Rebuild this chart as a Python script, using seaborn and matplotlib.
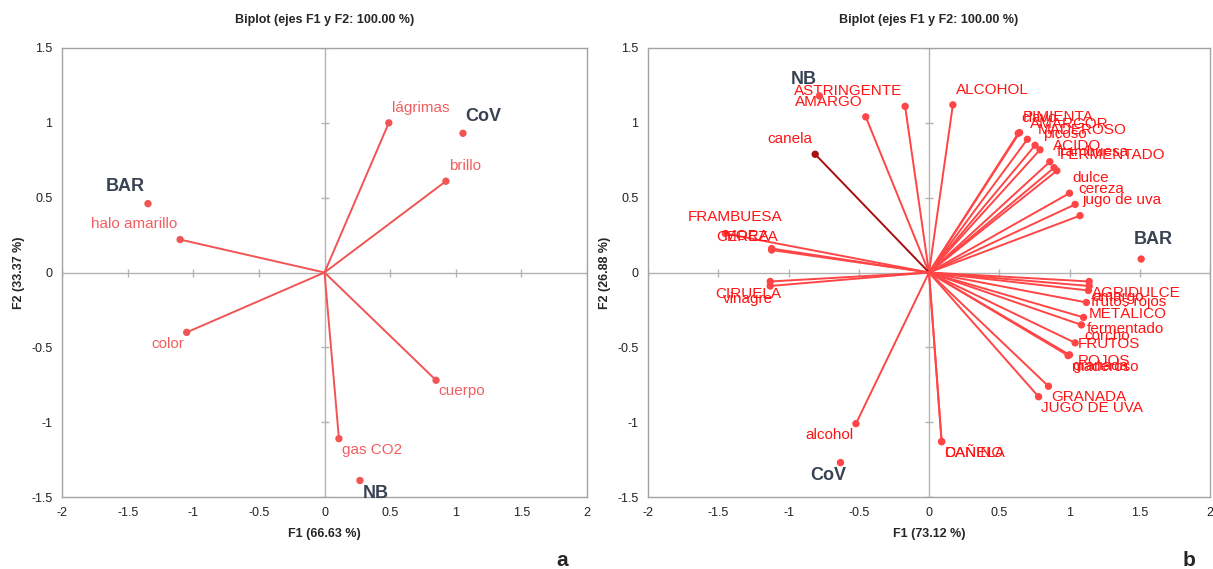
import numpy as np
import pandas as pd
import matplotlib
matplotlib.use('Agg')
import matplotlib.pyplot as plt
from matplotlib.ticker import FuncFormatter
import seaborn as sns

sns.set_theme(style='white')
plt.rcParams['font.family'] = ['Liberation Sans', 'DejaVu Sans']

# ---- panel a ----
vars_a = ['lágrimas', 'brillo', 'halo amarillo', 'color', 'cuerpo', 'gas CO2']
f1_a = [0.49, 0.925, -1.10, -1.05, 0.85, 0.11]
f2_a = [1.00, 0.61, 0.22, -0.40, -0.72, -1.11]
obs_a = ['BAR', 'CoV', 'NB']
obs_f1_a = [-1.345, 1.055, 0.27]
obs_f2_a = [0.46, 0.93, -1.39]

# ---- panel b ----
vars_b = ['ALCOHOL', 'ASTRINGENTE', 'AMARGO', 'canela',
          'PIMIENTA', 'clavo', 'AMARGOR', 'MADEROSO', 'picoso', 'ÁCIDO',
          'frambuesa', 'FERMENTADO', 'dulce', 'cereza', 'jugo de uva',
          'FRAMBUESA', 'MORA', 'CEREZA', 'CIRUELA', 'vinagre',
          'AGRIDULCE', 'amargo', 'frutos rojos', 'METÁLICO', 'fermentado',
          'corcho', 'FRUTOS\nROJOS', 'granada', 'maderoso', 'GRANADA',
          'JUGO DE UVA', 'alcohol', 'CANELA', 'DAÑINO']
f1_b = [0.17, -0.17, -0.45, -0.81,
        0.645, 0.635, 0.70, 0.755, 0.79, 0.86,
        0.89, 0.91, 1.00, 1.04, 1.075,
        -1.45, -1.12, -1.12, -1.13, -1.13,
        1.14, 1.14, 1.135, 1.12, 1.10,
        1.085, 1.04, 1.00, 0.99, 0.85,
        0.78, -0.52, 0.09, 0.09]
f2_b = [1.12, 1.11, 1.04, 0.79,
        0.935, 0.93, 0.89, 0.85, 0.82, 0.74,
        0.70, 0.68, 0.53, 0.455, 0.38,
        0.26, 0.16, 0.15, -0.06, -0.09,
        -0.06, -0.09, -0.12, -0.20, -0.30,
        -0.35, -0.47, -0.55, -0.555, -0.76,
        -0.83, -1.01, -1.13, -1.13]
dark_b = ['canela']
obs_b = ['NB', 'CoV', 'BAR']
obs_f1_b = [-0.78, -0.63, 1.51]
obs_f2_b = [1.18, -1.27, 0.09]

# a few labels sit differently in the original: (ha, va, dx, dy) in points
label_shift = {'FRAMBUESA': ('center', 'bottom', 7, 7),
               'MORA': ('center', 'bottom', -18, 4),
               'CEREZA': ('center', 'bottom', -18, 4),
               'CIRUELA': ('center', 'top', -16, -4),
               'vinagre': ('center', 'top', -16, -4),
               'FRUTOS\nROJOS': ('left', 'center', 2, -7),
               'CoV_b': ('center', 'top', -9, -3),
               'BAR_b': ('left', 'bottom', -5, 8)}

LINE_A, TEXT_A = '#f25454', '#f25e5e'
LINE_B, TEXT_B = '#ff4545', '#ff1414'
DARK_RED = '#a80f0f'
OBS_COL = '#384253'
GREY = '#b3b3b3'


def place(ax, x, y, text, color, size, weight, key=None):
    ha = 'left' if x >= 0 else 'right'
    va = 'bottom' if y >= 0 else 'top'
    dx = 2 if x >= 0 else -2
    dy = 6 if y >= 0 else -3
    if key in label_shift:
        ha, va, dx, dy = label_shift[key]
    ax.annotate(text, (x, y), xytext=(dx, dy), textcoords='offset points',
                ha=ha, va=va, color=color, fontsize=size, fontweight=weight,
                linespacing=1.25)


def biplot(ax, names, f1, f2, obs, of1, of2, xlab, ylab, line_col, text_col, tag, dark=()):
    df = pd.DataFrame({'name': names, 'F1': f1, 'F2': f2})
    df['kind'] = np.where(df['name'].isin(dark), 'dark', 'var')
    ax.axhline(0, color=GREY, lw=1, zorder=0)
    ax.axvline(0, color=GREY, lw=1, zorder=0)
    tx = np.arange(-2, 2.01, 0.5)
    ty = np.arange(-1.5, 1.51, 0.5)
    ax.scatter(tx, np.zeros_like(tx), marker='|', s=40, color=GREY, lw=1, zorder=0)
    ax.scatter(np.zeros_like(ty), ty, marker='_', s=40, color=GREY, lw=1, zorder=0)
    for r in df.itertuples():
        c = DARK_RED if r.kind == 'dark' else line_col
        ax.plot([0, r.F1], [0, r.F2], color=c, lw=1.4, zorder=2)
    sns.scatterplot(data=df, x='F1', y='F2', hue='kind',
                    palette={'var': line_col, 'dark': DARK_RED},
                    s=28, edgecolor='none', legend=False, ax=ax, zorder=3)
    for r in df.itertuples():
        place(ax, r.F1, r.F2, r.name, text_col, 11, 'normal', r.name)
    od = pd.DataFrame({'name': obs, 'F1': of1, 'F2': of2})
    sns.scatterplot(data=od, x='F1', y='F2', color=line_col, s=28,
                    edgecolor='none', legend=False, ax=ax, zorder=3)
    for r in od.itertuples():
        place(ax, r.F1, r.F2, r.name, OBS_COL, 13, 'bold', r.name + tag)

    ax.set_xlim(-2, 2)
    ax.set_ylim(-1.5, 1.5)
    ax.set_xticks(tx)
    ax.set_yticks(ty)
    fmt = FuncFormatter(lambda v, p: f'{v:g}')
    ax.xaxis.set_major_formatter(fmt)
    ax.yaxis.set_major_formatter(fmt)
    ax.tick_params(length=0, labelsize=9, colors='#222222', pad=7)
    for s in ax.spines.values():
        s.set_color('#a3a3a3')
        s.set_linewidth(1)
    ax.set_xlabel(xlab, fontsize=9, fontweight='bold', labelpad=7)
    ax.set_ylabel(ylab, fontsize=9, fontweight='bold', labelpad=4)
    ax.set_title('Biplot (ejes F1 y F2: 100.00 %)', fontsize=9, fontweight='bold', pad=18)


fig = plt.figure(figsize=(12.13, 5.69), dpi=100)
ax1 = fig.add_axes([62 / 1213, 1 - 497 / 569, 525 / 1213, 449 / 569])
ax2 = fig.add_axes([648 / 1213, 1 - 497 / 569, 562 / 1213, 449 / 569])

biplot(ax1, vars_a, f1_a, f2_a, obs_a, obs_f1_a, obs_f2_a,
       'F1 (66.63 %)', 'F2 (33.37 %)', LINE_A, TEXT_A, '_a')
biplot(ax2, vars_b, f1_b, f2_b, obs_b, obs_f1_b, obs_f2_b,
       'F1 (73.12 %)', 'F2 (26.88 %)', LINE_B, TEXT_B, '_b', dark=dark_b)

fig.text(562 / 1213, 1 - 560 / 569, 'a', fontsize=15, fontweight='bold', ha='center', va='center')
fig.text(1189 / 1213, 1 - 560 / 569, 'b', fontsize=15, fontweight='bold', ha='center', va='center')

fig.savefig('out.png', dpi=100)
